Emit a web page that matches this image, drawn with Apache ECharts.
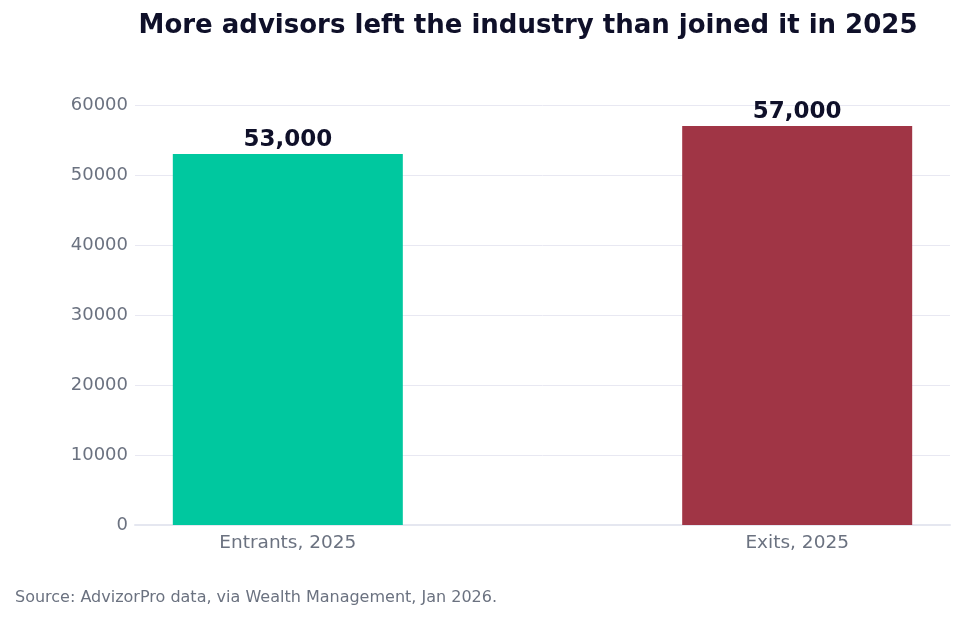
<!DOCTYPE html>
<html>
<head>
<meta charset="utf-8">
<script src="https://cdn.jsdelivr.net/npm/echarts@6/dist/echarts.min.js"></script>
<style>
  html, body { margin: 0; padding: 0; background: #fff; }
  #container { width: 964px; height: 622px; }
</style>
</head>
<body>
<div id="container"></div>
<script>
var categories = ['Entrants, 2025', 'Exits, 2025'];
var values = [53000, 57000];
var barColors = ['#00c89f', '#a03545'];
var yTicks = [0, 10000, 20000, 30000, 40000, 50000, 60000];

var chart = echarts.init(document.getElementById('container'));

var data = values.map(function (v, i) {
	return { value: [i, v], itemStyle: { color: barColors[i] } };
});

var option = {
	backgroundColor: '#fff',
	textStyle: { fontFamily: 'DejaVu Sans' },
	title: {
		text: 'More advisors left the industry than joined it in 2025',
		left: 523,
		textAlign: 'center',
		top: 8,
		textStyle: { fontSize: 26, fontWeight: 'bold', color: '#0f1029', fontFamily: 'DejaVu Sans' }
	},
	graphic: [{
		type: 'text',
		left: 15,
		top: 590,
		style: {
			text: 'Source: AdvizorPro data, via Wealth Management, Jan 2026.',
			fontSize: 16,
			fontFamily: 'DejaVu Sans',
			fill: '#6b7280'
		}
	}],
	grid: { left: 135, right: 14, top: 105, bottom: 97, containLabel: false },
	xAxis: {
		type: 'value',
		min: -0.3,
		max: 1.3,
		splitLine: { show: false },
		axisLine: { show: true, lineStyle: { color: '#e5e7f0', width: 2 } },
		axisTick: { show: false },
		axisLabel: {
			customValues: [0, 1],
			formatter: function (v) { return categories[Math.round(v)]; },
			color: '#6b7280',
			fontSize: 18.5,
			margin: 9
		}
	},
	yAxis: {
		type: 'value',
		min: 0,
		max: 60000,
		interval: 10000,
		axisLine: { show: false },
		axisTick: { show: false },
		splitLine: { lineStyle: { color: '#e8e8f2', width: 1 } },
		axisLabel: {
			color: '#6b7280',
			fontSize: 18,
			margin: 7,
			padding: [2, 0, 0, 0],
			customValues: yTicks,
			formatter: function (v) { return String(v); }
		}
	},
	series: [{
		type: 'bar',
		barWidth: 230,
		data: data,
		label: {
			show: true,
			position: 'top',
			distance: 2,
			fontSize: 23,
			fontWeight: 'bold',
			color: '#0f1029',
			formatter: function (p) { return p.value[1].toLocaleString('en-US'); }
		}
	}]
};

chart.setOption(option);
</script>
</body>
</html>
